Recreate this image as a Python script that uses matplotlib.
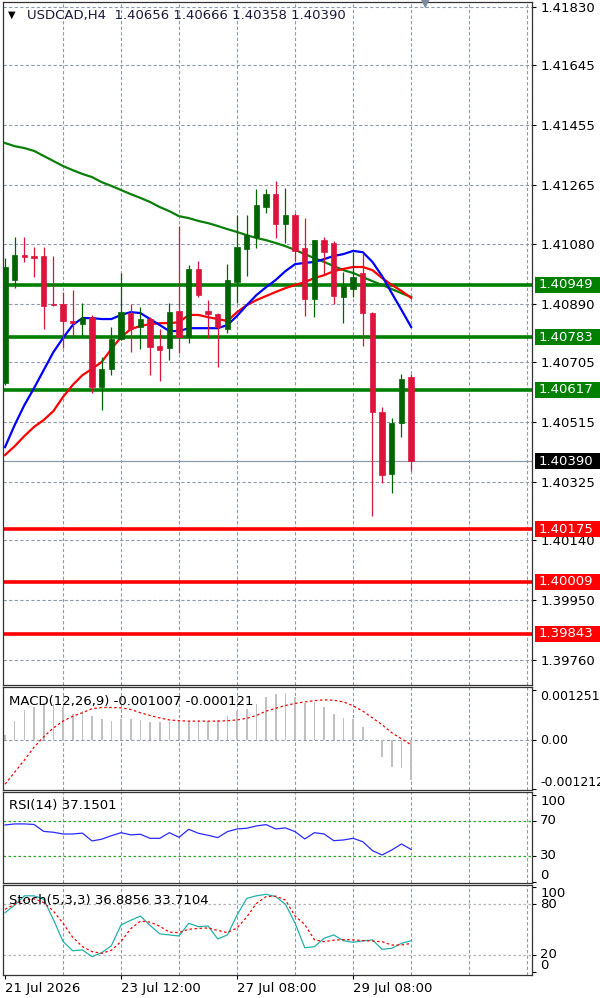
import matplotlib
matplotlib.use("Agg")
import matplotlib.pyplot as plt
from matplotlib.patches import Rectangle
from matplotlib.transforms import blended_transform_factory

# USDCAD H4 bars, index 0 = 21 Jul 2026
opens = [1.40638, 1.40965, 1.41044, 1.41041, 1.41041, 1.40889, 1.40889, 1.40835, 1.40825, 1.40847,
         1.40625, 1.40682, 1.40778, 1.40860, 1.40816, 1.40841, 1.40755, 1.40749, 1.40866, 1.40784,
         1.41000, 1.40866, 1.40857, 1.40809, 1.40958, 1.41063, 1.41101, 1.41196, 1.41237, 1.41142,
         1.41171, 1.41066, 1.40904, 1.41091, 1.41082, 1.40911, 1.40936, 1.40987, 1.40860, 1.40546,
         1.40350, 1.40511, 1.40656]
highs = [1.41034, 1.41101, 1.41101, 1.41069, 1.41069, 1.41041, 1.40927, 1.40933, 1.40892, 1.40854,
         1.40721, 1.40816, 1.40987, 1.40889, 1.40879, 1.40847, 1.40809, 1.40892, 1.41136, 1.41012,
         1.41025, 1.40901, 1.40860, 1.41015, 1.41171, 1.41171, 1.41253, 1.41253, 1.41278, 1.41256,
         1.41177, 1.41161, 1.41091, 1.41101, 1.41088, 1.40990, 1.41053, 1.41050, 1.40863, 1.40562,
         1.40527, 1.40667, 1.40666]
lows = [1.40632, 1.40939, 1.41022, 1.40974, 1.40809, 1.40882, 1.40749, 1.40784, 1.40784, 1.40606,
        1.40552, 1.40663, 1.40774, 1.40736, 1.40746, 1.40663, 1.40644, 1.40711, 1.40733, 1.40765,
        1.40911, 1.40781, 1.40689, 1.40797, 1.40892, 1.40977, 1.41066, 1.41177, 1.41098, 1.41082,
        1.41025, 1.40850, 1.40847, 1.40980, 1.40889, 1.40828, 1.40911, 1.40755, 1.40216, 1.40321,
        1.40289, 1.40467, 1.40358]
closes = [1.41006, 1.41044, 1.41038, 1.41034, 1.40882, 1.40885, 1.40835, 1.40828, 1.40844, 1.40625,
          1.40682, 1.40778, 1.40863, 1.40809, 1.40841, 1.40752, 1.40743, 1.40863, 1.40784, 1.41000,
          1.40917, 1.40857, 1.40816, 1.40965, 1.41069, 1.41107, 1.41202, 1.41237, 1.41142, 1.41171,
          1.41057, 1.40904, 1.41091, 1.41053, 1.40914, 1.40946, 1.40974, 1.40860, 1.40546, 1.40346,
          1.40511, 1.40651, 1.40390]

# moving averages (blue fast, red mid, green slow)
ma_fast = [1.40435, 1.40505, 1.40568, 1.40622, 1.40679, 1.40736, 1.40781, 1.40822, 1.40844, 1.40844,
           1.40841, 1.40841, 1.40854, 1.40863, 1.40860, 1.40841, 1.40822, 1.40803, 1.40803, 1.40812,
           1.40812, 1.40812, 1.40812, 1.40822, 1.40851, 1.40885, 1.40917, 1.40942, 1.40965, 1.40993,
           1.41015, 1.41019, 1.41022, 1.41031, 1.41041, 1.41047, 1.41057, 1.41053, 1.41022, 1.40977,
           1.40923, 1.40870, 1.40816]
ma_mid = [1.40410, 1.40438, 1.40470, 1.40499, 1.40521, 1.40549, 1.40594, 1.40632, 1.40663, 1.40683,
          1.40705, 1.40746, 1.40784, 1.40809, 1.40819, 1.40825, 1.40828, 1.40828, 1.40831, 1.40854,
          1.40854, 1.40847, 1.40841, 1.40835, 1.40863, 1.40885, 1.40901, 1.40914, 1.40927, 1.40939,
          1.40949, 1.40958, 1.40971, 1.40980, 1.40993, 1.41000, 1.41006, 1.41006, 1.40996, 1.40971,
          1.40949, 1.40930, 1.40908]
ma_slow = [1.41399, 1.41389, 1.41383, 1.41374, 1.41358, 1.41342, 1.41326, 1.41313, 1.41301, 1.41291,
           1.41275, 1.41263, 1.41250, 1.41237, 1.41225, 1.41212, 1.41196, 1.41183, 1.41167, 1.41161,
           1.41152, 1.41145, 1.41136, 1.41126, 1.41117, 1.41107, 1.41098, 1.41091, 1.41082, 1.41072,
           1.41060, 1.41047, 1.41034, 1.41022, 1.41009, 1.40996, 1.40987, 1.40974, 1.40961, 1.40949,
           1.40936, 1.40923, 1.40911]

resist_levels = [1.40949, 1.40783, 1.40617]
support_levels = [1.40175, 1.40009, 1.39843]
last_price = 1.40390

price_ticks = [1.41830, 1.41645, 1.41455, 1.41265, 1.41080, 1.40890,
               1.40705, 1.40515, 1.40325, 1.40140, 1.39950, 1.39760]

macd_hist = [0.00013, 0.00048, 0.00075, 0.00083, 0.00091, 0.00090, 0.00081, 0.00066, 0.00073, 0.00061,
             0.00052, 0.00048, 0.00052, 0.00052, 0.00050, 0.00044, 0.00044, 0.00044, 0.00048, 0.00048,
             0.00050, 0.00048, 0.00050, 0.00061, 0.00073, 0.00077, 0.00090, 0.00106, 0.00115, 0.00116,
             0.00106, 0.00091, 0.00094, 0.00083, 0.00066, 0.00055, 0.00052, 0.00033, -0.00002, -0.00043,
             -0.00068, -0.00070, -0.001007]
macd_signal = [-0.00110, -0.00080, -0.00050, -0.00018, 0.00008, 0.00030, 0.00047, 0.00059, 0.00068, 0.00078,
               0.00081, 0.00081, 0.00080, 0.00076, 0.00068, 0.00061, 0.00055, 0.00050, 0.00048, 0.00047,
               0.00047, 0.00047, 0.00047, 0.00048, 0.00050, 0.00054, 0.00061, 0.00072, 0.00079, 0.00086,
               0.00091, 0.00095, 0.00098, 0.00100, 0.00099, 0.00095, 0.00085, 0.00072, 0.00055, 0.00038,
               0.00018, 0.00003, -0.000121]

rsi = [65.4, 66.6, 66.6, 66.0, 58.0, 57.0, 55.0, 55.0, 56.0, 47.0,
       49.0, 53.0, 56.5, 54.0, 54.7, 50.0, 50.0, 56.5, 51.2, 60.4,
       55.8, 53.5, 50.8, 57.7, 60.8, 61.6, 64.3, 65.8, 60.8, 62.0,
       57.7, 49.3, 56.5, 55.0, 47.3, 48.1, 50.0, 46.1, 35.8, 30.8,
       36.6, 43.5, 37.15]

stoch_k = [70, 79, 90, 90, 86, 62, 36, 25, 26, 18,
           22.7, 31, 55.5, 61, 66, 55, 45, 43.7, 42.5, 57.5,
           53.5, 54.3, 39, 43.7, 67.3, 87, 90, 91.8, 89, 80,
           57.5, 28.6, 29.8, 39.8, 43.7, 36.9, 35, 36.6, 37.8, 26.7,
           27.9, 33.8, 36.89]
stoch_d = [74, 80, 85, 86.5, 82, 72, 57.5, 41, 30, 24,
           22, 25.5, 36, 51, 60, 59, 54, 47, 46.5, 50.4,
           51.4, 52, 49, 46.5, 52, 65, 81, 89, 89.6, 85,
           66, 56, 38, 35.7, 37.5, 38.2, 37.8, 37, 36.5, 35.7,
           31.8, 31.8, 33.71]

time_ticks = [0, 12, 24, 36]
time_labels = ["21 Jul 2026", "23 Jul 12:00", "27 Jul 08:00", "29 Jul 08:00"]

# ---- layout (pixel based, like the terminal window) ----
W, H = 600, 998
BAR_PX = 9.67
X0_PX = 5
LEFT_PX, RIGHT_PX = 3, 532
GRID = dict(color="#8e9bab", lw=0.8, linestyle=(0, (3, 2)))
BULL, BEAR = "#006400", "#dc143c"

plt.rcParams["font.family"] = "DejaVu Sans"
plt.rcParams["font.size"] = 9.5

fig = plt.figure(figsize=(W / 100, H / 100), dpi=100)


def panel(top, bottom):
    ax = fig.add_axes([LEFT_PX / W, 1 - bottom / H, (RIGHT_PX - LEFT_PX) / W, (bottom - top) / H])
    ax.set_xlim((LEFT_PX - X0_PX) / BAR_PX, (RIGHT_PX - X0_PX) / BAR_PX)
    for s in ax.spines.values():
        s.set_color("#333333")
        s.set_linewidth(0.9)
    ax.yaxis.tick_right()
    ax.tick_params(axis="y", length=3, pad=3, width=0.8, colors="black")
    ax.set_xticks([])
    for g in range(6, 55, 6):
        ax.axvline(g, **GRID, zorder=0)
    return ax


def set_label_va(ax, aligns):
    for lab, va in zip(ax.get_yticklabels(), aligns):
        lab.set_verticalalignment(va)


n = len(closes)
idx = list(range(n))

# ---- main price window ----
ax = panel(2, 685)
ax.set_ylim(1.39681, 1.41846)
ax.set_yticks(price_ticks)
ax.set_yticklabels([f"{p:.5f}" for p in price_ticks])
for p in price_ticks:
    ax.axhline(p, **GRID, zorder=0)

ax.axhline(last_price, color="#8c9aab", lw=0.9, zorder=1)
for lvl in resist_levels:
    ax.axhline(lvl, color="#008000", lw=2.6, zorder=2)
for lvl in support_levels:
    ax.axhline(lvl, color="#ff0000", lw=2.6, zorder=2)

ax.plot(idx, ma_slow, color="#0a800a", lw=1.6, zorder=3)
ax.plot(idx, ma_mid, color="#ff0000", lw=1.6, zorder=3)
ax.plot(idx, ma_fast, color="#0000ff", lw=1.6, zorder=3)

for i in idx:
    o, h, l, c = opens[i], highs[i], lows[i], closes[i]
    col = BULL if c >= o else BEAR
    ax.vlines(i, l, h, color=col, lw=0.9, zorder=4)
    lo, hi = min(o, c), max(o, c)
    ax.bar(i, max(hi - lo, 0.00002), bottom=lo, width=0.55, color=col,
           edgecolor=col, lw=0.5, zorder=5)

# level tags on the price scale
tr = blended_transform_factory(ax.transAxes, ax.transData)
px_x = 1 / (RIGHT_PX - LEFT_PX)
half = 8 * (1.41846 - 1.39681) / 683
tags = [(v, "#008000") for v in resist_levels] + [(v, "#ff0000") for v in support_levels] \
    + [(last_price, "#000000")]
for v, col in tags:
    ax.add_patch(Rectangle((1 + 3 * px_x, v - half), 66 * px_x, 2 * half, transform=tr,
                           facecolor=col, edgecolor="none", clip_on=False, zorder=10))
    ax.text(1 + 7 * px_x, v, f"{v:.5f}", transform=tr, color="white", va="center",
            ha="left", clip_on=False, zorder=11)

fig.text(8 / W, 1 - 15 / H, "\u25bc", fontsize=7, va="center", color="black")
fig.text(27 / W, 1 - 15 / H, "USDCAD,H4  1.40656 1.40666 1.40358 1.40390",
         va="center", ha="left", color="#1a1a3a")
fig.text(425 / W, 1 - 4 / H, "\u25bc", fontsize=8, va="center", ha="center", color="#7d8a99")

# ---- MACD ----
ax_m = panel(687, 790)
ax_m.set_ylim(-0.001245, 0.00132)
ax_m.set_yticks([0.001251, 0.0, -0.001212])
ax_m.set_yticklabels(["0.001251", "0.00", "-0.001212"])
ax_m.tick_params(axis="y", labelsize=9)
set_label_va(ax_m, ["top", "center", "bottom"])
ax_m.axhline(0, **GRID, zorder=0)
ax_m.bar(idx, macd_hist, width=0.17, color="#c0c0c0", zorder=2)
ax_m.plot(idx, macd_signal, color="#ff0000", lw=0.9, linestyle=(0, (2, 2)), zorder=3)
ax_m.text(0.012, 0.86, "MACD(12,26,9) -0.001007 -0.000121", transform=ax_m.transAxes,
          va="center", ha="left", zorder=5)

# ---- RSI ----
ax_r = panel(792, 883)
ax_r.set_ylim(-1.5, 103.4)
ax_r.set_yticks([100, 70, 30, 0])
ax_r.set_yticklabels(["100", "70", "30", "0"])
set_label_va(ax_r, ["top", "center", "center", "bottom"])
for lvl in (70, 30):
    ax_r.axhline(lvl, color="#22aa22", lw=0.9, linestyle=(0, (2, 2)), zorder=1)
ax_r.plot(idx, rsi, color="#2a2aff", lw=0.9, zorder=3)
ax_r.text(0.012, 0.85, "RSI(14) 37.1501", transform=ax_r.transAxes,
          va="center", ha="left", zorder=5)

# ---- Stochastic ----
ax_s = panel(885, 975)
ax_s.set_ylim(-3.7, 102.8)
ax_s.set_yticks([100, 80, 20, 0])
ax_s.set_yticklabels(["100", "80", "20", "0"])
set_label_va(ax_s, ["top", "center", "center", "bottom"])
for lvl in (80, 20):
    ax_s.axhline(lvl, color="#b4b4b4", lw=0.9, linestyle=(0, (2, 2)), zorder=1)
ax_s.plot(idx, stoch_k, color="#20b2aa", lw=0.9, zorder=3)
ax_s.plot(idx, stoch_d, color="#ff0000", lw=0.9, linestyle=(0, (2, 2)), zorder=3)
ax_s.text(0.012, 0.83, "Stoch(5,3,3) 36.8856 33.7104", transform=ax_s.transAxes,
          va="center", ha="left", zorder=5)
ax_s.set_xticks(time_ticks)
ax_s.set_xticklabels(time_labels)
ax_s.tick_params(axis="x", length=3, pad=2, width=0.8)
for lab in ax_s.get_xticklabels():
    lab.set_horizontalalignment("left")

fig.savefig("out.png", dpi=100, facecolor="white")
